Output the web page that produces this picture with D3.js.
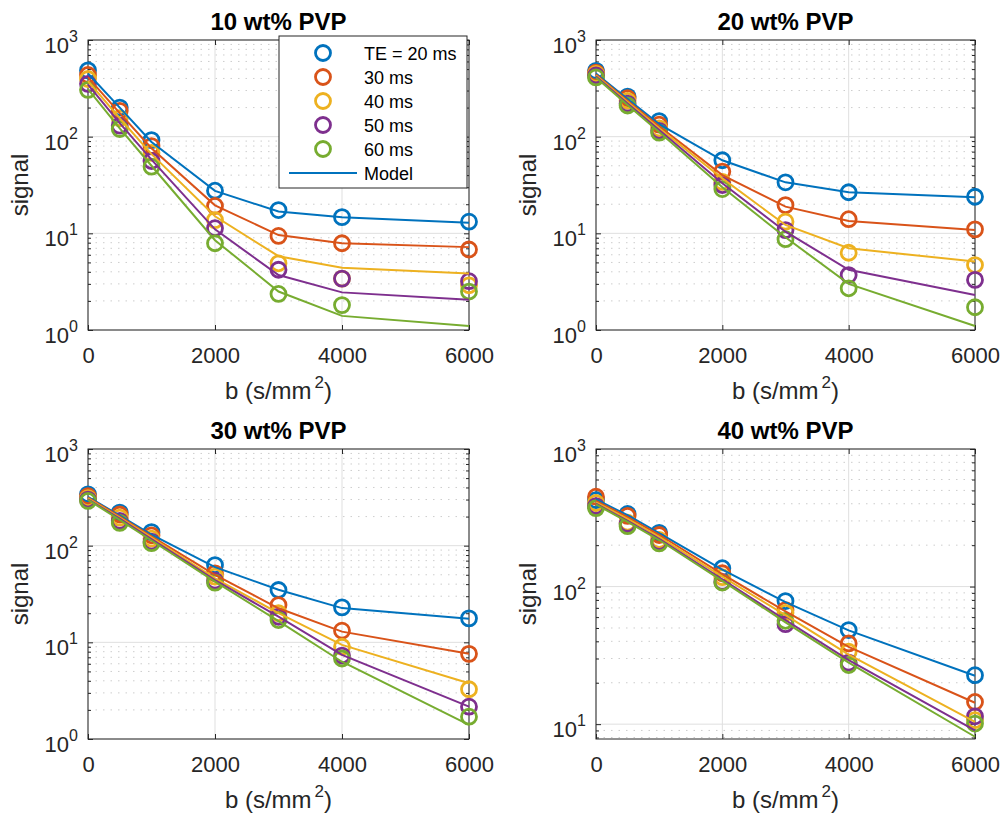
<!DOCTYPE html>
<html>
<head>
<meta charset="utf-8">
<script src="https://cdn.jsdelivr.net/npm/d3@7"></script>
<style>
  body { margin: 0; background: #fff; }
  svg { font-family: "Liberation Sans", Arial, sans-serif; }
</style>
</head>
<body>
<script>
// значения b (s/mm^2)
var bValues = [0, 500, 1000, 2000, 3000, 4000, 6000];
var xTicks = [0, 2000, 4000, 6000];
var teLabels = ["TE = 20 ms", "30 ms", "40 ms", "50 ms", "60 ms"];
var colors = ["#0072BD", "#D95319", "#EDB120", "#7E2F8E", "#77AC30"];
var panelTitles = ["10 wt% PVP", "20 wt% PVP", "30 wt% PVP", "40 wt% PVP"];

// измеренный сигнал, по строке на каждое TE
var signal10 = [
    [485, 200, 92, 27.6, 17.4, 14.7, 13.2],
    [435, 185, 80, 19.2, 9.4, 7.9, 6.8],
    [395, 155, 68, 13.7, 4.9, 3.4, 2.9],
    [352, 130, 56, 11.3, 4.2, 3.4, 3.2],
    [305, 120, 49, 7.9, 2.36, 1.81, 2.5]
];
var model10 = [
    [450, 200, 88, 27.5, 16.8, 14.7, 12.9],
    [410, 175, 76, 19.5, 9.6, 7.9, 7.2],
    [375, 155, 66, 15, 5.8, 4.4, 3.85],
    [345, 138, 58, 11, 3.7, 2.45, 2.05],
    [310, 122, 50, 8.5, 2.5, 1.4, 1.1]
];
var signal20 = [
    [480, 260, 145, 57, 33.7, 26.6, 23.9],
    [460, 250, 133, 43.5, 19.6, 14, 11],
    [445, 235, 122, 34, 13.2, 6.3, 4.7],
    [430, 220, 115, 31.6, 10.8, 3.7, 3.3],
    [410, 210, 110, 28.7, 8.7, 2.7, 1.72]
];
var model20 = [
    [450, 245, 135, 57, 33.7, 26.6, 23.6],
    [440, 235, 128, 40, 18.9, 13.4, 10.8],
    [430, 228, 122, 37, 12.2, 7.0, 5.1],
    [420, 220, 117, 33, 10.4, 4.2, 2.3],
    [410, 212, 112, 30, 9.1, 3.0, 1.1]
];
var signal30 = [
    [340, 220, 138, 63, 34.8, 23, 17.7],
    [325, 210, 128, 51.8, 24.3, 13.2, 7.6],
    [310, 195, 118, 47.8, 20, 9.0, 3.27],
    [300, 180, 110, 43.4, 18.4, 7.3, 2.16],
    [290, 172, 106, 41.4, 17, 6.8, 1.7]
];
var model30 = [
    [320, 205, 130, 60, 35, 22.6, 17.5],
    [315, 200, 125, 50, 22.5, 12.9, 7.6],
    [308, 195, 121, 46, 20, 9.4, 3.77],
    [302, 190, 117, 44, 18.4, 7.4, 2.16],
    [298, 185, 113, 42.5, 16.6, 6.3, 1.4]
];
var signal40 = [
    [425, 337, 246, 136, 78.5, 48.3, 22.7],
    [450, 326, 237, 125, 67.5, 38.6, 14.5],
    [405, 291, 218, 117, 64.5, 33.6, 10.7],
    [385, 285, 211, 108, 53.3, 28, 11.4],
    [372, 275, 206, 107, 56.4, 26.9, 10.1]
];
var model40 = [
    [430, 330, 245, 133, 77, 48, 22.5],
    [420, 320, 238, 123, 66, 36.5, 14.3],
    [410, 310, 230, 118, 62, 32, 10.4],
    [400, 300, 222, 113, 57, 29.2, 9.0],
    [395, 295, 218, 110, 55, 28, 8.1]
];
var yMin = [1, 1, 1, 7.8];
var yMajorTicks = [[1, 10, 100, 1000], [1, 10, 100, 1000], [1, 10, 100, 1000], [10, 100, 1000]];

var signals = [signal10, signal20, signal30, signal40];
var models = [model10, model20, model30, model40];

// расположение панелей
var panels = [
    {left: 88, top: 40, width: 381},
    {left: 596, top: 40, width: 379},
    {left: 88, top: 449, width: 381},
    {left: 596, top: 449, width: 379}
];
var plotHeight = 290;
var axisColor = "#262626";

var svg = d3.select("body").append("svg")
    .attr("width", 1003)
    .attr("height", 821);

panels.forEach(function(p, i) {
    var g = svg.append("g").attr("transform", "translate(" + p.left + "," + p.top + ")");

    var x = d3.scaleLinear().domain([0, 6000]).range([0, p.width]);
    var y = d3.scaleLog().domain([yMin[i], 1000]).range([plotHeight, 0]);

    // второстепенные деления логарифмической оси
    var minor = [];
    for (var e = 0; e < 3; e++) {
        for (var k = 2; k <= 9; k++) {
            var v = k * Math.pow(10, e);
            if (v >= yMin[i] && v <= 1000) minor.push(v);
        }
    }

    g.append("rect")
        .attr("width", p.width)
        .attr("height", plotHeight)
        .style("fill", "#fff");

    // сетка
    g.selectAll(".minorgrid").data(minor).enter().append("line")
        .attr("x1", 0).attr("x2", p.width)
        .attr("y1", function(d) { return y(d); })
        .attr("y2", function(d) { return y(d); })
        .style("stroke", "#cdcdcd")
        .style("stroke-width", 1)
        .style("stroke-dasharray", "1.5,6");
    g.selectAll(".ygrid").data(yMajorTicks[i]).enter().append("line")
        .attr("x1", 0).attr("x2", p.width)
        .attr("y1", function(d) { return y(d); })
        .attr("y2", function(d) { return y(d); })
        .style("stroke", "#dfdfdf")
        .style("stroke-width", 1);
    g.selectAll(".xgrid").data(xTicks).enter().append("line")
        .attr("x1", function(d) { return x(d); })
        .attr("x2", function(d) { return x(d); })
        .attr("y1", 0).attr("y2", plotHeight)
        .style("stroke", "#dfdfdf")
        .style("stroke-width", 1);

    // оси с делениями внутрь
    var axes = [
        g.append("g").attr("transform", "translate(0," + plotHeight + ")")
            .call(d3.axisBottom(x).tickValues(xTicks).tickSize(-5).tickPadding(17).tickFormat(d3.format("d"))),
        g.append("g").call(d3.axisTop(x).tickValues(xTicks).tickSize(-5).tickFormat("")),
        g.append("g").call(d3.axisLeft(y).tickValues(yMajorTicks[i]).tickSize(-5).tickFormat("")),
        g.append("g").call(d3.axisLeft(y).tickValues(minor).tickSize(-3).tickFormat("")),
        g.append("g").attr("transform", "translate(" + p.width + ",0)")
            .call(d3.axisRight(y).tickValues(yMajorTicks[i]).tickSize(-5).tickFormat("")),
        g.append("g").attr("transform", "translate(" + p.width + ",0)")
            .call(d3.axisRight(y).tickValues(minor).tickSize(-3).tickFormat(""))
    ];
    axes.forEach(function(a) {
        a.select(".domain").remove();
        a.selectAll("line").style("stroke", axisColor);
        a.selectAll("text")
            .style("font-family", "Liberation Sans, Arial, sans-serif")
            .style("font-size", "22px")
            .style("fill", axisColor);
    });

    // подписи 10^n
    var yl = g.selectAll(".ylab").data(yMajorTicks[i]).enter().append("text")
        .attr("x", -10)
        .attr("y", function(d) { return y(d) + 13; })
        .attr("text-anchor", "end")
        .style("font-size", "22px")
        .style("fill", axisColor);
    yl.append("tspan").text("10");
    yl.append("tspan")
        .attr("dy", -11)
        .style("font-size", "16px")
        .text(function(d) { return Math.round(Math.log10(d)); });

    // рамка
    g.append("rect")
        .attr("width", p.width)
        .attr("height", plotHeight)
        .style("fill", "none")
        .style("stroke", axisColor)
        .style("stroke-width", 1);

    // маркеры данных
    signals[i].forEach(function(row, s) {
        g.selectAll(".pt" + s).data(row).enter().append("circle")
            .attr("cx", function(d, j) { return x(bValues[j]); })
            .attr("cy", function(d) { return y(d); })
            .attr("r", 7.5)
            .style("fill", "none")
            .style("stroke", colors[s])
            .style("stroke-width", 2.8);
    });

    // модельные кривые
    var line = d3.line()
        .x(function(d, j) { return x(bValues[j]); })
        .y(function(d) { return y(d); });
    models[i].forEach(function(row, s) {
        g.append("path")
            .attr("d", line(row))
            .style("fill", "none")
            .style("stroke", colors[s])
            .style("stroke-width", 2);
    });

    // заголовок и подписи осей
    g.append("text")
        .attr("x", p.width / 2)
        .attr("y", -10)
        .attr("text-anchor", "middle")
        .style("font-size", "24px")
        .style("font-weight", "bold")
        .style("fill", "#000")
        .text(panelTitles[i]);

    var xl = g.append("text")
        .attr("x", p.width / 2)
        .attr("y", plotHeight + 69)
        .attr("text-anchor", "middle")
        .style("font-size", "24px")
        .style("fill", axisColor);
    xl.append("tspan").text("b (s/mm");
    xl.append("tspan").attr("dx", 3).attr("dy", -11).style("font-size", "17px").text("2");
    xl.append("tspan").attr("dy", 11).text(")");

    g.append("text")
        .attr("transform", "translate(-60," + (plotHeight / 2) + ") rotate(-90)")
        .attr("text-anchor", "middle")
        .style("font-size", "24px")
        .style("fill", axisColor)
        .text("signal");

    // легенда только в первой панели
    if (i === 0) {
        var lg = g.append("g").attr("transform", "translate(191,-4)");
        lg.append("rect")
            .attr("width", 188)
            .attr("height", 152)
            .style("fill", "#fff")
            .style("stroke", axisColor)
            .style("stroke-width", 1);
        teLabels.forEach(function(lbl, s) {
            var cy = 17 + s * 24;
            lg.append("circle")
                .attr("cx", 44).attr("cy", cy).attr("r", 7.5)
                .style("fill", "none")
                .style("stroke", colors[s])
                .style("stroke-width", 2.8);
            lg.append("text")
                .attr("x", 85).attr("y", cy + 6.5)
                .style("font-size", "18px")
                .style("fill", "#000")
                .text(lbl);
        });
        var my = 17 + 5 * 24;
        lg.append("line")
            .attr("x1", 10).attr("x2", 78)
            .attr("y1", my).attr("y2", my)
            .style("stroke", colors[0])
            .style("stroke-width", 2);
        lg.append("text")
            .attr("x", 85).attr("y", my + 6.5)
            .style("font-size", "18px")
            .style("fill", "#000")
            .text("Model");
    }
});
</script>
</body>
</html>
